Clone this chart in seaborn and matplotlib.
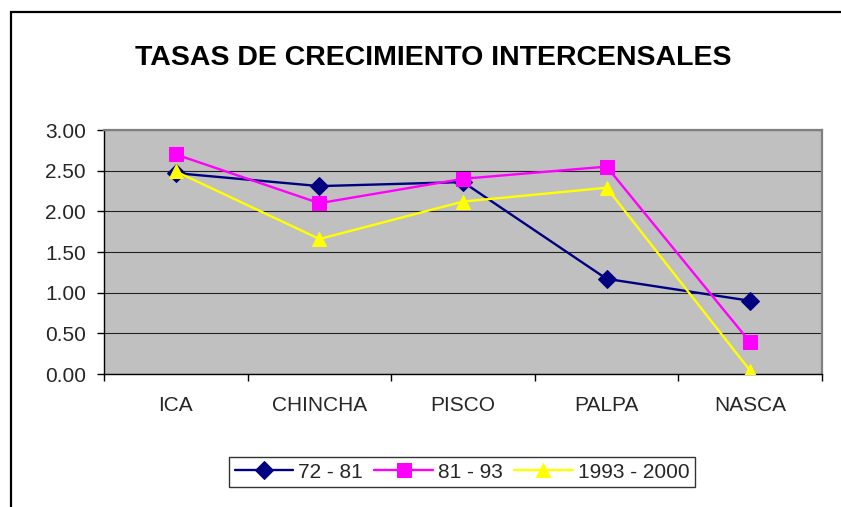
import numpy as np
import pandas as pd
import matplotlib
matplotlib.use("Agg")
import matplotlib.pyplot as plt
import matplotlib.patches as mpatches
import seaborn as sns

# Data
provincias = ["ICA", "CHINCHA", "PISCO", "PALPA", "NASCA"]
tasa_72_81 = [2.47, 2.31, 2.36, 1.17, 0.90]
tasa_81_93 = [2.70, 2.10, 2.40, 2.55, 0.39]
tasa_93_00 = [2.49, 1.66, 2.12, 2.29, 0.04]
periodos = ["72 - 81", "81 - 93", "1993 - 2000"]

df = pd.DataFrame({
    "Provincia": provincias * 3,
    "Tasa": tasa_72_81 + tasa_81_93 + tasa_93_00,
    "Periodo": np.repeat(periodos, len(provincias)),
})
df["x"] = df["Provincia"].map({p: i for i, p in enumerate(provincias)})

sns.set_style("white")
plt.rcParams["font.family"] = ["Liberation Sans", "DejaVu Sans"]

colores = {"72 - 81": "#000080", "81 - 93": "#FF00FF", "1993 - 2000": "#FFFF00"}
marcadores = {"72 - 81": "D", "81 - 93": "s", "1993 - 2000": "^"}

fig = plt.figure(figsize=(8.41, 5.07), dpi=100)
ax = fig.add_axes([104 / 841, 1 - 374 / 507, 718 / 841, 244 / 507])
ax.set_facecolor("#C0C0C0")

for periodo in periodos:
    sub = df[df["Periodo"] == periodo]
    sns.lineplot(data=sub, x="x", y="Tasa", color=colores[periodo],
                 marker=marcadores[periodo], markersize=10 if periodo != "72 - 81" else 9,
                 markeredgecolor=colores[periodo], linewidth=1.7,
                 label=periodo, ax=ax, zorder=3)

ax.set_xlim(-0.5, len(provincias) - 0.5)
ax.set_ylim(0, 3)
ax.set_yticks(np.arange(0, 3.01, 0.5))
ax.set_yticklabels([f"{v:.2f}" for v in np.arange(0, 3.01, 0.5)], fontsize=15)
ax.yaxis.grid(True, color="#202020", linewidth=0.8)
ax.set_axisbelow(True)

# category boundaries as ticks, names centred between them
ax.set_xticks(np.arange(-0.5, len(provincias), 1.0))
ax.set_xticklabels([])
ax.set_xticks(np.arange(len(provincias)), minor=True)
ax.set_xticklabels(provincias, minor=True, fontsize=15)
ax.tick_params(axis="x", which="major", direction="out", length=5, width=1, color="black", bottom=True)
ax.tick_params(axis="x", which="minor", length=0, pad=16)
ax.tick_params(axis="y", direction="out", length=5, width=1, color="black", left=True, pad=8)

ax.set_xlabel("")
ax.set_ylabel("")
for s in ["left", "bottom"]:
    ax.spines[s].set_color("black")
    ax.spines[s].set_linewidth(1)
for s in ["top", "right"]:
    ax.spines[s].set_color("#808080")
    ax.spines[s].set_linewidth(1.6)

fig.text(433 / 841, 1 - 58 / 507, "TASAS DE CRECIMIENTO INTERCENSALES",
         ha="center", va="center", fontsize=20.5, fontweight="bold", color="black")

if ax.legend_:
    ax.legend_.remove()
handles, labels = ax.get_legend_handles_labels()
leg = fig.legend(handles, labels, loc="center", bbox_to_anchor=(462 / 841, 1 - 472 / 507),
                 ncol=3, fontsize=15, frameon=True, fancybox=False,
                 edgecolor="black", handlelength=2.8, handletextpad=0.25,
                 columnspacing=0.55, borderpad=0.25)
leg.get_frame().set_linewidth(1)

# outer chart border (runs off the right and bottom of the image)
fig.patches.append(mpatches.Rectangle((10.5 / 841, -0.2), 1.2, 1.2 - 13 / 507 + 0.001,
                                      transform=fig.transFigure, fill=False,
                                      edgecolor="black", linewidth=1.6))

fig.savefig("out.png", dpi=100)
